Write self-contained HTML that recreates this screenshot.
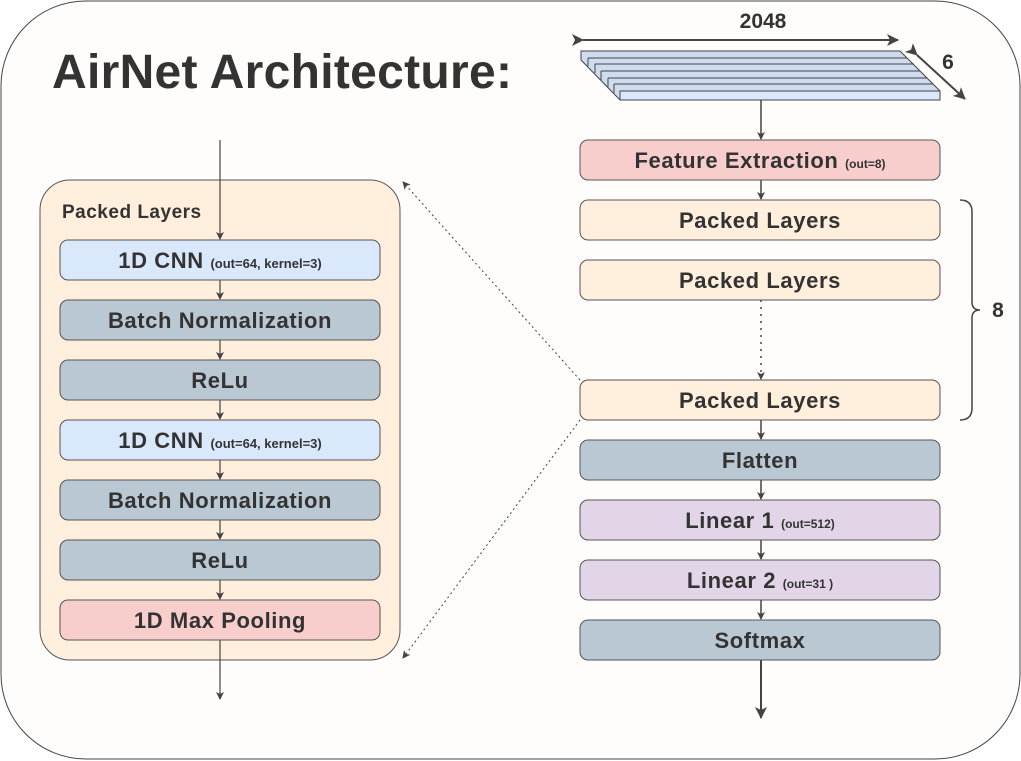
<!DOCTYPE html>
<html><head><style>body{margin:0;background:#fff}svg{display:block}text{font-family:"Liberation Sans",sans-serif;font-weight:bold;fill:#333}</style></head><body>
<svg width="1021" height="761" viewBox="0 0 1021 761" xmlns="http://www.w3.org/2000/svg">
<defs><marker id="a" markerWidth="8" markerHeight="8" refX="7" refY="4" orient="auto" markerUnits="userSpaceOnUse"><path d="M0,0 L8,4 L0,8 L2,4z" fill="#444"/></marker>
<marker id="b" markerWidth="12" markerHeight="12" refX="11" refY="6" orient="auto" markerUnits="userSpaceOnUse"><path d="M0,0 L12,6 L0,12 L3,6z" fill="#444"/></marker></defs>
<rect x="1" y="1" width="1019" height="758" rx="85" fill="#fefdfb" stroke="#444" stroke-width="1"/>
<text x="52" y="88" font-size="48" letter-spacing="0.3">AirNet Architecture:</text>
<text x="763" y="28" font-size="21" text-anchor="middle">2048</text>
<line x1="583" y1="40" x2="898" y2="40" stroke="#444" stroke-width="2" marker-start="url(#b)" marker-end="url(#b)"/>
<text x="948" y="69" font-size="21" text-anchor="middle">6</text>
<line x1="917" y1="55" x2="965" y2="99" stroke="#444" stroke-width="2" marker-start="url(#b)" marker-end="url(#b)"/>
<g stroke="#444" stroke-width="1" fill="#cfdcef">
<polygon points="581,51 900,51 940,91 940,100 620,100 581,60"/>
<line x1="588" y1="58" x2="907" y2="58"/><line x1="595" y1="64" x2="914" y2="64"/><line x1="601" y1="71" x2="920" y2="71"/><line x1="608" y1="78" x2="927" y2="78"/><line x1="614" y1="84" x2="933" y2="84"/>
<line x1="620" y1="91" x2="940" y2="91"/>
<rect x="620" y="91" width="320" height="9" fill="#dae8fc"/>
<line x1="588" y1="58" x2="588" y2="66"/><line x1="595" y1="64" x2="595" y2="73"/><line x1="601" y1="71" x2="601" y2="80"/><line x1="608" y1="78" x2="608" y2="87"/><line x1="614" y1="84" x2="614" y2="93"/>
</g>
<g stroke="#444" stroke-width="1.5" fill="none">
<line x1="761" y1="100" x2="761" y2="139" marker-end="url(#a)"/>
<line x1="761" y1="180" x2="761" y2="199" marker-end="url(#a)"/>
<line x1="761" y1="300" x2="761" y2="379" stroke-dasharray="2,5" marker-end="url(#a)"/>
<line x1="761" y1="420" x2="761" y2="439" marker-end="url(#a)"/>
<line x1="761" y1="480" x2="761" y2="499" marker-end="url(#a)"/>
<line x1="761" y1="540" x2="761" y2="559" marker-end="url(#a)"/>
<line x1="761" y1="600" x2="761" y2="619" marker-end="url(#a)"/>
<line x1="761" y1="660" x2="761" y2="718" marker-end="url(#b)" stroke-width="2"/>
</g>
<path d="M960,200 Q972,200 972,212 L972,302 Q972,310 980,310 Q972,310 972,318 L972,408 Q972,420 960,420" fill="none" stroke="#444" stroke-width="1.5"/>
<text x="998" y="317" font-size="21" text-anchor="middle">8</text>
<g stroke="#555" stroke-width="1">
<rect x="580" y="140" width="360" height="40" rx="8" fill="#f8cecc"/>
<rect x="580" y="200" width="360" height="40" rx="8" fill="#ffefdc"/>
<rect x="580" y="260" width="360" height="40" rx="8" fill="#ffefdc"/>
<rect x="580" y="380" width="360" height="40" rx="8" fill="#ffefdc"/>
<rect x="580" y="440" width="360" height="40" rx="8" fill="#bac8d3"/>
<rect x="580" y="500" width="360" height="40" rx="8" fill="#e1d5e7"/>
<rect x="580" y="560" width="360" height="40" rx="8" fill="#e1d5e7"/>
<rect x="580" y="620" width="360" height="40" rx="8" fill="#bac8d3"/>
</g>
<g font-size="22" letter-spacing="0.6" text-anchor="middle">
<text x="760" y="168">Feature Extraction <tspan font-size="12" letter-spacing="0">(out=8)</tspan></text>
<text x="760" y="228">Packed Layers</text>
<text x="760" y="288">Packed Layers</text>
<text x="760" y="408">Packed Layers</text>
<text x="760" y="468">Flatten</text>
<text x="760" y="528">Linear 1 <tspan font-size="12" letter-spacing="0">(out=512)</tspan></text>
<text x="760" y="588">Linear 2 <tspan font-size="12" letter-spacing="0">(out=31 )</tspan></text>
<text x="760" y="648">Softmax</text>
</g>
<line x1="580" y1="380" x2="403" y2="182" stroke="#444" stroke-dasharray="2,3" marker-end="url(#a)"/>
<line x1="580" y1="420" x2="403" y2="658" stroke="#444" stroke-dasharray="2,3" marker-end="url(#a)"/>
<rect x="40" y="180" width="360" height="480" rx="30" fill="#ffefdc" stroke="#555"/>
<text x="62" y="218" font-size="19" letter-spacing="0.5">Packed Layers</text>
<g stroke="#444" stroke-width="1.2">
<line x1="220" y1="140" x2="220" y2="239" marker-end="url(#a)"/>
<line x1="220" y1="280" x2="220" y2="299" marker-end="url(#a)"/>
<line x1="220" y1="340" x2="220" y2="359" marker-end="url(#a)"/>
<line x1="220" y1="400" x2="220" y2="419" marker-end="url(#a)"/>
<line x1="220" y1="460" x2="220" y2="479" marker-end="url(#a)"/>
<line x1="220" y1="520" x2="220" y2="539" marker-end="url(#a)"/>
<line x1="220" y1="580" x2="220" y2="599" marker-end="url(#a)"/>
<line x1="220" y1="640" x2="220" y2="699" marker-end="url(#a)"/>
</g>
<g stroke="#555" stroke-width="1">
<rect x="60" y="240" width="320" height="40" rx="8" fill="#dae8fc"/>
<rect x="60" y="300" width="320" height="40" rx="8" fill="#bac8d3"/>
<rect x="60" y="360" width="320" height="40" rx="8" fill="#bac8d3"/>
<rect x="60" y="420" width="320" height="40" rx="8" fill="#dae8fc"/>
<rect x="60" y="480" width="320" height="40" rx="8" fill="#bac8d3"/>
<rect x="60" y="540" width="320" height="40" rx="8" fill="#bac8d3"/>
<rect x="60" y="600" width="320" height="40" rx="8" fill="#f8cecc"/>
</g>
<g font-size="22" letter-spacing="0.6" text-anchor="middle">
<text x="220" y="268">1D CNN <tspan font-size="13" letter-spacing="0">(out=64, kernel=3)</tspan></text>
<text x="220" y="328">Batch Normalization</text>
<text x="220" y="388">ReLu</text>
<text x="220" y="448">1D CNN <tspan font-size="13" letter-spacing="0">(out=64, kernel=3)</tspan></text>
<text x="220" y="508">Batch Normalization</text>
<text x="220" y="568">ReLu</text>
<text x="220" y="628">1D Max Pooling</text>
</g>
</svg>
</body></html>
